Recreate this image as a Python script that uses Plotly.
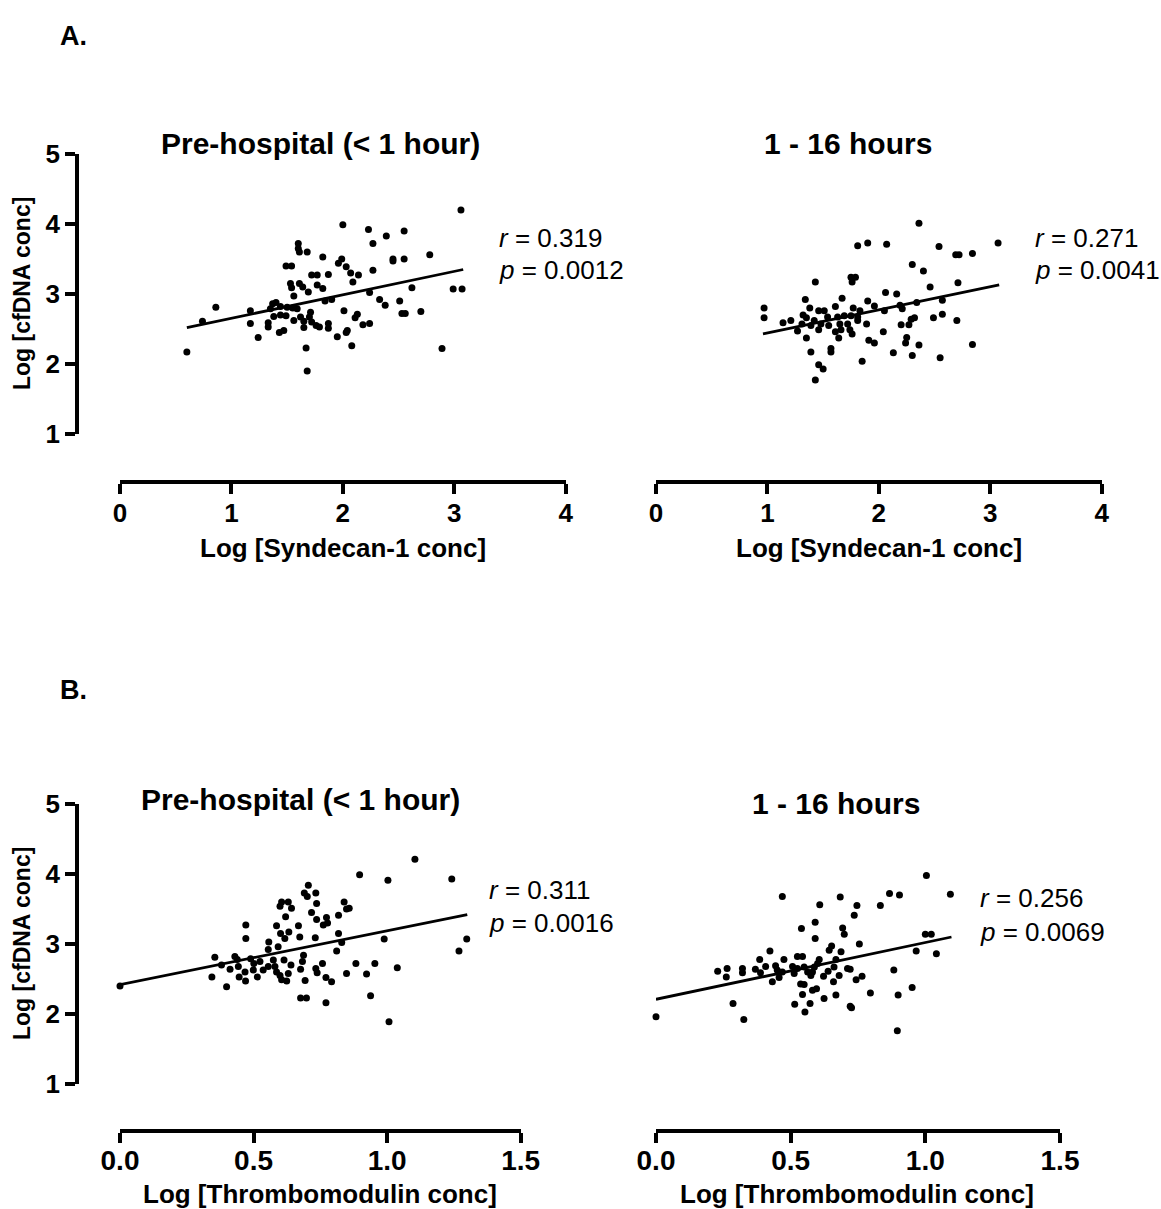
import plotly.graph_objects as go

W, H = 1161, 1209

# ---------------- Data ----------------
# Panel A, Pre-hospital (< 1 hour): Log[Syndecan-1] vs Log[cfDNA]
a_pre_x = [3.06, 2.00, 2.23, 2.55, 2.39, 2.27, 1.60, 1.60, 1.61, 1.68, 2.78, 1.82, 2.45, 2.45, 2.55,
           1.99, 1.96, 2.03, 2.27, 1.49, 1.54, 2.07, 2.14, 1.72, 1.77, 1.87, 2.09, 1.53, 1.61, 1.54,
           1.64, 1.77, 1.82, 1.69, 2.62, 2.99, 3.07, 2.24, 1.56, 1.84, 1.90, 2.33, 2.51, 2.38, 0.86,
           1.37, 1.40, 1.17, 0.74, 1.35, 1.44, 1.50, 1.59, 1.55, 1.38, 1.44, 1.49, 1.56, 1.62, 1.71,
           1.70, 1.65, 1.72, 1.76, 1.65, 1.79, 1.87, 1.87, 1.33, 1.33, 1.17, 1.43, 1.47, 1.24, 2.01,
           2.13, 2.11, 2.18, 2.24, 2.04, 2.03, 1.95, 2.08, 2.53, 2.56, 2.70, 2.89, 0.60, 1.67, 1.68]
a_pre_y = [4.20, 3.99, 3.92, 3.90, 3.83, 3.72, 3.72, 3.65, 3.60, 3.60, 3.56, 3.53, 3.50, 3.47, 3.50,
           3.50, 3.44, 3.39, 3.34, 3.40, 3.40, 3.30, 3.27, 3.27, 3.27, 3.28, 3.17, 3.15, 3.15, 3.09,
           3.10, 3.13, 3.08, 3.03, 3.09, 3.07, 3.07, 3.02, 2.97, 2.90, 2.92, 2.92, 2.90, 2.84, 2.81,
           2.86, 2.88, 2.76, 2.61, 2.79, 2.82, 2.81, 2.79, 2.80, 2.68, 2.70, 2.69, 2.62, 2.67, 2.74,
           2.67, 2.61, 2.60, 2.55, 2.52, 2.53, 2.58, 2.51, 2.59, 2.53, 2.58, 2.45, 2.48, 2.38, 2.76,
           2.71, 2.66, 2.56, 2.58, 2.48, 2.45, 2.39, 2.26, 2.72, 2.72, 2.75, 2.22, 2.17, 2.23, 1.90]
a_pre_fit_x = [0.60, 3.08]
a_pre_fit_y = [2.52, 3.35]

# Panel A, 1 - 16 hours
a_late_x = [2.36, 1.81, 1.90, 2.07, 2.54, 3.07, 2.69, 2.72, 2.84, 2.30, 2.40, 1.75, 1.79, 1.76, 1.43,
            2.71, 2.46, 2.06, 2.16, 1.67, 1.34, 1.90, 1.96, 2.57, 2.34, 2.19, 0.97, 0.97, 1.38, 1.46,
            1.51, 1.61, 1.77, 1.83, 2.05, 2.21, 2.57, 1.32, 1.35, 1.42, 1.54, 1.63, 1.69, 1.75, 1.81,
            1.14, 1.21, 1.31, 1.39, 1.48, 1.55, 1.65, 1.72, 1.81, 1.89, 1.27, 1.46, 1.61, 1.66, 1.74,
            1.76, 2.04, 2.20, 2.27, 2.29, 2.32, 2.49, 2.70, 1.35, 1.64, 1.91, 1.96, 2.25, 2.24, 2.36,
            2.84, 1.57, 1.57, 1.39, 2.13, 2.30, 2.55, 1.85, 1.46, 1.50, 1.43]
a_late_y = [4.01, 3.69, 3.73, 3.71, 3.68, 3.73, 3.56, 3.56, 3.58, 3.42, 3.33, 3.24, 3.24, 3.17, 3.17,
            3.16, 3.10, 3.02, 3.00, 2.94, 2.92, 2.90, 2.83, 2.91, 2.88, 2.84, 2.80, 2.66, 2.80, 2.76,
            2.76, 2.82, 2.80, 2.76, 2.76, 2.79, 2.71, 2.70, 2.66, 2.62, 2.67, 2.67, 2.69, 2.69, 2.67,
            2.59, 2.62, 2.57, 2.55, 2.57, 2.55, 2.57, 2.57, 2.62, 2.57, 2.47, 2.49, 2.46, 2.49, 2.49,
            2.43, 2.46, 2.56, 2.56, 2.64, 2.66, 2.66, 2.62, 2.37, 2.37, 2.34, 2.30, 2.38, 2.30, 2.27,
            2.28, 2.22, 2.17, 2.17, 2.16, 2.12, 2.09, 2.04, 1.99, 1.93, 1.77]
a_late_fit_x = [0.96, 3.08]
a_late_fit_y = [2.43, 3.13]

# Panel B, Pre-hospital (< 1 hour): Log[Thrombomodulin] vs Log[cfDNA]
b_pre_x = [1.104, 0.897, 1.003, 1.242, 0.705, 0.690, 0.733, 0.701, 0.605, 0.630, 0.599, 0.642, 0.736,
           0.839, 0.848, 0.858, 0.818, 0.717, 0.620, 0.773, 0.736, 0.761, 0.777, 0.471, 0.586, 0.668,
           0.632, 0.601, 0.617, 0.673, 0.731, 0.818, 0.830, 0.471, 0.989, 1.298, 1.269, 0.557, 0.592,
           0.555, 0.811, 0.687, 0.355, 0.430, 0.439, 0.489, 0.524, 0.574, 0.614, 0.683, 0.380, 0.443,
           0.501, 0.555, 0.580, 0.640, 0.758, 0.883, 0.954, 0.412, 0.468, 0.499, 0.536, 0.586, 0.630,
           0.676, 0.733, 0.738, 1.038, 0.344, 0.446, 0.514, 0.599, 0.605, 0.624, 0.693, 0.771, 0.792,
           0.848, 0.923, 0.470, 0.399, 0.676, 0.698, 0.771, 0.938, 1.007, 0.000]
b_pre_y = [4.21, 3.99, 3.91, 3.93, 3.84, 3.73, 3.73, 3.68, 3.60, 3.60, 3.54, 3.51, 3.58,
           3.60, 3.50, 3.51, 3.41, 3.45, 3.39, 3.38, 3.35, 3.27, 3.30, 3.27, 3.26, 3.26,
           3.17, 3.15, 3.08, 3.10, 3.09, 3.15, 3.02, 3.08, 3.07, 3.07, 2.90, 3.03, 2.96,
           2.92, 2.90, 2.84, 2.81, 2.82, 2.78, 2.79, 2.75, 2.77, 2.77, 2.75, 2.70, 2.68,
           2.72, 2.68, 2.68, 2.70, 2.72, 2.72, 2.72, 2.64, 2.60, 2.63, 2.63, 2.60, 2.58,
           2.64, 2.65, 2.59, 2.66, 2.53, 2.53, 2.53, 2.55, 2.49, 2.47, 2.48, 2.52, 2.46,
           2.58, 2.57, 2.47, 2.39, 2.23, 2.23, 2.16, 2.26, 1.89, 2.40]
b_pre_fit_x = [0.00, 1.30]
b_pre_fit_y = [2.42, 3.42]

# Panel B, 1 - 16 hours
b_late_x = [1.004, 0.469, 0.684, 0.867, 0.904, 1.093, 0.608, 0.746, 0.833, 0.736, 0.591, 0.540, 0.693,
            0.699, 1.000, 1.022, 0.591, 0.755, 0.652, 0.643, 0.423, 0.687, 0.966, 1.041, 0.385, 0.475,
            0.525, 0.544, 0.606, 0.668, 0.229, 0.264, 0.261, 0.321, 0.321, 0.369, 0.388, 0.407, 0.444,
            0.450, 0.469, 0.432, 0.457, 0.507, 0.513, 0.525, 0.550, 0.563, 0.575, 0.588, 0.600, 0.581,
            0.622, 0.639, 0.659, 0.661, 0.680, 0.711, 0.721, 0.743, 0.765, 0.883, 0.537, 0.550, 0.581,
            0.596, 0.544, 0.668, 0.624, 0.796, 0.899, 0.951, 0.515, 0.572, 0.553, 0.721, 0.726, 0.286,
            0.326, 0.000, 0.896]
b_late_y = [3.98, 3.68, 3.67, 3.72, 3.70, 3.71, 3.56, 3.55, 3.55, 3.41, 3.31, 3.22, 3.23,
            3.14, 3.14, 3.14, 3.08, 3.00, 2.97, 2.91, 2.90, 2.89, 2.90, 2.86, 2.78, 2.78,
            2.82, 2.82, 2.78, 2.78, 2.61, 2.65, 2.53, 2.65, 2.59, 2.64, 2.59, 2.68, 2.69,
            2.63, 2.60, 2.46, 2.52, 2.68, 2.58, 2.65, 2.67, 2.60, 2.55, 2.67, 2.72, 2.60,
            2.54, 2.61, 2.46, 2.67, 2.55, 2.65, 2.64, 2.49, 2.54, 2.63, 2.43, 2.42, 2.34,
            2.36, 2.28, 2.27, 2.22, 2.30, 2.27, 2.38, 2.14, 2.15, 2.03, 2.11, 2.09, 2.15,
            1.92, 1.96, 1.76]
b_late_fit_x = [0.00, 1.097]
b_late_fit_y = [2.21, 3.10]

panel_titles = ["Pre-hospital (< 1 hour)", "1 - 16 hours", "Pre-hospital (< 1 hour)", "1 - 16 hours"]
stats_r = ["0.319", "0.271", "0.311", "0.256"]
stats_p = ["0.0012", "0.0041", "0.0016", "0.0069"]
syn_ticks = [0, 1, 2, 3, 4]
syn_ticktext = ["0", "1", "2", "3", "4"]
tm_ticks = [0, 0.5, 1.0, 1.5]
tm_ticktext = ["0.0", "0.5", "1.0", "1.5"]
y_ticks = [1, 2, 3, 4, 5]
x_title_a = "Log [Syndecan-1 conc]"
x_title_b = "Log [Thrombomodulin conc]"
y_title = "Log [cfDNA conc]"

# ---------------- Layout helpers ----------------
FONT = "Liberation Sans, Arial, Helvetica, sans-serif"


def fx(px):
    return px / W


def fy(py):
    return 1 - py / H


fig = go.Figure()

panels = [
    (a_pre_x, a_pre_y, a_pre_fit_x, a_pre_fit_y, "x", "y"),
    (a_late_x, a_late_y, a_late_fit_x, a_late_fit_y, "x2", "y2"),
    (b_pre_x, b_pre_y, b_pre_fit_x, b_pre_fit_y, "x3", "y3"),
    (b_late_x, b_late_y, b_late_fit_x, b_late_fit_y, "x4", "y4"),
]
for xs, ys, fxs, fys, xa, ya in panels:
    fig.add_trace(go.Scatter(x=xs, y=ys, mode="markers", xaxis=xa, yaxis=ya,
                             marker=dict(size=7, color="black"), cliponaxis=False,
                             showlegend=False, hoverinfo="x+y"))
    fig.add_trace(go.Scatter(x=fxs, y=fys, mode="lines", xaxis=xa, yaxis=ya,
                             line=dict(color="black", width=2.8), cliponaxis=False,
                             showlegend=False, hoverinfo="skip"))

axis_common = dict(showline=True, linecolor="black", linewidth=3.5, ticks="outside",
                   ticklen=10, tickwidth=3.5, tickcolor="black", showgrid=False,
                   zeroline=False, fixedrange=True)

# pixel geometry of each panel
geo = {
    "A": dict(ytop=154, ybot=434, xline=482, yline=77, xtick=26, standoff=-3),
    "B": dict(ytop=804, ybot=1084, xline=1131, yline=77, xtick=28, standoff=-6),
}
xdom = {
    "x": (120, 565.7), "x2": (656, 1101.7), "x3": (120, 520.7), "x4": (656, 1060),
}

layout = dict(
    width=W, height=H, margin=dict(l=0, r=0, t=0, b=0, pad=0, autoexpand=False),
    plot_bgcolor="white", paper_bgcolor="white", showlegend=False,
    font=dict(family=FONT, color="black"),
)

for i, (xa, row) in enumerate([("x", "A"), ("x2", "A"), ("x3", "B"), ("x4", "B")]):
    g = geo[row]
    suffix = "" if i == 0 else str(i + 1)
    is_a = row == "A"
    layout["xaxis" + suffix] = dict(
        axis_common,
        domain=[fx(xdom[xa][0]), fx(xdom[xa][1])],
        range=[0, 4] if is_a else [0, 1.5],
        tickvals=syn_ticks if is_a else tm_ticks,
        ticktext=syn_ticktext if is_a else tm_ticktext,
        tickfont=dict(family=FONT, size=g["xtick"], color="black", weight="bold"),
        ticklabelstandoff=g["standoff"],
        anchor="free", position=fy(g["xline"]), side="bottom", automargin=False,
    )
    ycfg = dict(
        axis_common,
        domain=[fy(g["ybot"]), fy(g["ytop"])],
        range=[1, 5], tickvals=y_ticks, automargin=False,
        tickfont=dict(family=FONT, size=26, color="black", weight="bold"),
    )
    if i in (0, 2):
        ycfg.update(anchor="free", position=fx(g["yline"]), side="left")
    else:
        ycfg.update(visible=False, anchor=xa)
    layout["yaxis" + suffix] = ycfg

fig.update_layout(**layout)

ann = []


def add_text(text, px, py, size, bold=False, xanchor="center", angle=0):
    ann.append(dict(text=text, x=fx(px), y=fy(py), xref="paper", yref="paper",
                    xanchor=xanchor, yanchor="middle", showarrow=False, textangle=angle,
                    font=dict(family=FONT, size=size, color="black",
                              weight="bold" if bold else "normal")))


# panel letters
add_text("A.", 58, 36, 27, bold=True, xanchor="left")
add_text("B.", 58, 690, 27, bold=True, xanchor="left")

# panel titles
title_pos = [(320, 143), (848, 143), (300, 799), (836, 803)]
for t, (px, py) in zip(panel_titles, title_pos):
    add_text(t, px, py, 30, bold=True)

# statistics
stat_pos = [(497, 238, 270), (1033, 238, 270), (487, 890, 923), (978, 898, 932)]
for r, p, (px, pyr, pyp) in zip(stats_r, stats_p, stat_pos):
    add_text("<i>r</i> = " + r, px, pyr, 26, xanchor="left")
    add_text("<i>p</i> = " + p, px, pyp, 26, xanchor="left")

# axis titles
add_text(x_title_a, 343, 548, 26, bold=True)
add_text(x_title_a, 879, 548, 26, bold=True)
add_text(x_title_b, 320, 1194, 26, bold=True)
add_text(x_title_b, 857, 1194, 26, bold=True)
add_text(y_title, 22, 294, 23, bold=True, angle=-90)
add_text(y_title, 22, 944, 23, bold=True, angle=-90)

fig.update_layout(annotations=ann)

fig.write_html("out.html")
